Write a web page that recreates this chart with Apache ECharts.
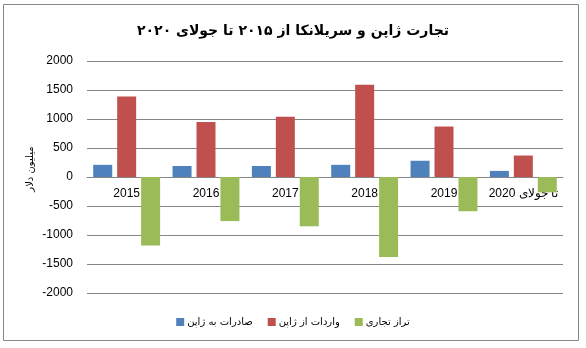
<!DOCTYPE html>
<html>
<head>
<meta charset="utf-8">
<script src="https://cdn.jsdelivr.net/npm/echarts@6/dist/echarts.min.js"></script>
<style>
  html, body { margin: 0; padding: 0; background: #fff; }
  #chart { width: 586px; height: 348px; }
</style>
</head>
<body>
<div id="chart"></div>
<script>
// Japan – Sri Lanka trade, million USD
const years = ['2015', '2016', '2017', '2018', '2019', '\u202Bتا جولای 2020\u202C'];
const exportsToJapan = [210, 190, 190, 210, 280, 105];
const importsFromJapan = [1390, 950, 1040, 1590, 870, 370];
const tradeBalance = [-1180, -760, -850, -1380, -590, -265];

const seriesNames = ['صادرات به ژاپن', 'واردات از ژاپن', 'تراز تجاری'];
const yTicks = { min: -2000, max: 2000, interval: 500 };

const arabicFont = '"DejaVu Sans", sans-serif';
const latinFont = '"Liberation Sans", Arial, sans-serif';

const gridTop = 61, gridBottom = 55, chartHeight = 348;
const plotHeight = chartHeight - gridTop - gridBottom;
// distance from the plot's bottom edge up to the zero line
const zeroOffset = plotHeight * (0 - yTicks.min) / (yTicks.max - yTicks.min);

const chart = echarts.init(document.getElementById('chart'), null, { renderer: 'canvas' });

chart.setOption({
  animation: false,
  backgroundColor: '#fff',
  title: {
    text: 'تجارت ژاپن و سریلانکا از ۲۰۱۵ تا جولای ۲۰۲۰',
    left: 'center',
    top: 19,
    textStyle: { fontFamily: arabicFont, fontSize: 14, fontWeight: 'bold', color: '#000' }
  },
  legend: {
    data: seriesNames,
    bottom: 16,
    left: 'center',
    itemWidth: 8,
    itemHeight: 8,
    itemGap: 15,
    icon: 'rect',
    textStyle: { fontFamily: arabicFont, fontSize: 10, color: '#000', padding: [0, 0, 0, -2] }
  },
  grid: { left: 87, right: 23, top: gridTop, bottom: gridBottom, containLabel: false },
  xAxis: {
    type: 'category',
    data: years,
    position: 'bottom',
    offset: -zeroOffset,
    axisLine: { onZero: false, lineStyle: { color: '#868686', width: 1 } },
    axisTick: { show: false },
    axisLabel: { interval: 0, margin: 11, fontFamily: latinFont, fontSize: 12, color: '#000' },
    splitLine: { show: false }
  },
  yAxis: {
    type: 'value',
    min: yTicks.min,
    max: yTicks.max,
    interval: yTicks.interval,
    axisLine: { show: false },
    axisTick: { show: false },
    axisLabel: {
      margin: 14, fontFamily: latinFont, fontSize: 12, color: '#000',
      formatter: v => String(v)
    },
    splitLine: { lineStyle: { color: '#868686', width: 1 } }
  },
  graphic: [
    {
      type: 'rect',
      shape: { x: 3.5, y: 4.5, width: 575, height: 336 },
      style: { fill: 'none', stroke: '#878787', lineWidth: 1 },
      silent: true
    },
    {
      type: 'text',
      x: 30,
      y: 169,
      rotation: Math.PI / 2,
      style: {
        text: 'میلیون دلار',
        font: '10px "DejaVu Sans", sans-serif',
        fill: '#000',
        align: 'center',
        verticalAlign: 'middle'
      },
      silent: true
    }
  ],
  series: [
    {
      name: seriesNames[0], type: 'bar', data: exportsToJapan,
      barWidth: 19, barGap: '26%',
      itemStyle: { color: '#4F81BD' }
    },
    {
      name: seriesNames[1], type: 'bar', data: importsFromJapan,
      barWidth: 19, barGap: '26%',
      itemStyle: { color: '#C0504D' }
    },
    {
      name: seriesNames[2], type: 'bar', data: tradeBalance,
      barWidth: 19, barGap: '26%',
      itemStyle: { color: '#9BBB59' },
      z: 3
    }
  ]
});
</script>
</body>
</html>
